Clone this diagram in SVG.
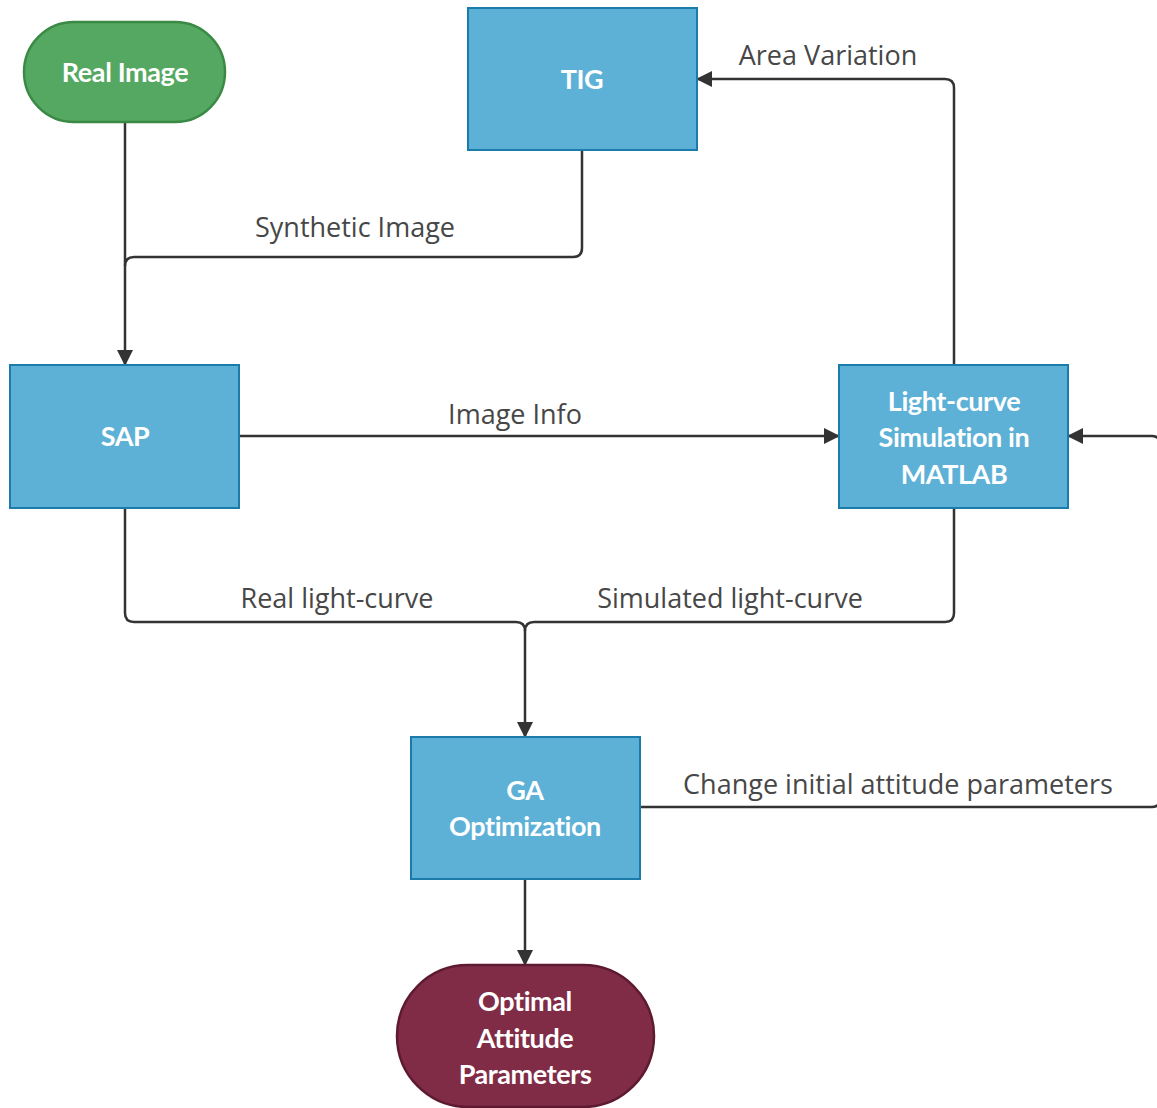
<svg xmlns="http://www.w3.org/2000/svg" width="1157" height="1108" viewBox="0 0 1157 1108">
<defs>
<marker id="ah" viewBox="0 0 16 16" refX="15" refY="8" markerWidth="16" markerHeight="16" markerUnits="userSpaceOnUse" orient="auto">
<path d="M0 0 L16 8 L0 16 Z" fill="#333"/>
</marker>
<style>
.box{fill:#5eb1d6;stroke:#1b7bab;stroke-width:2}
.nt{font-family:Lato,"Liberation Sans",sans-serif;font-weight:bold;font-size:27px;fill:#fff;text-anchor:middle;letter-spacing:-0.4px}
.lbl{font-family:"Open Sans","Noto Sans",sans-serif;font-size:27px;fill:#474747}
.cn{fill:none;stroke:#333;stroke-width:2.5}
</style>
</defs>
<rect width="1157" height="1108" fill="#fff"/>
<g id="connectors">
<path class="cn" d="M125 122 V365" marker-end="url(#ah)"/>
<path class="cn" d="M582 150 V248 Q582 257 573 257 H134 Q125 257 125 266"/>
<path class="cn" d="M239 436 H839" marker-end="url(#ah)"/>
<path class="cn" d="M954 365 V88 Q954 79 945 79 H697" marker-end="url(#ah)"/>
<path class="cn" d="M125 508 V613 Q125 622 134 622 H516 Q525 622 525 631 V737" marker-end="url(#ah)"/>
<path class="cn" d="M954 508 V613 Q954 622 945 622 H534 Q525 622 525 631"/>
<path class="cn" d="M525 879 V965" marker-end="url(#ah)"/>
<path class="cn" d="M640 807 H1152 Q1160 807 1160 799 V444 Q1160 436 1152 436 H1068" marker-end="url(#ah)"/>
<text class="lbl" x="828" y="65" text-anchor="middle">Area Variation</text>
<text class="lbl" x="355" y="237" text-anchor="middle">Synthetic Image</text>
<text class="lbl" x="515" y="424" text-anchor="middle">Image Info</text>
<text class="lbl" x="337" y="608" text-anchor="middle">Real light-curve</text>
<text class="lbl" x="730" y="608" text-anchor="middle">Simulated light-curve</text>
<text class="lbl" x="898" y="794" text-anchor="middle">Change initial attitude parameters</text>
</g>
<g id="real-image">
<rect x="24" y="22" width="201" height="100" rx="50" fill="#55a862" stroke="#3a8a45" stroke-width="2.5"/>
<text class="nt" x="125" y="82">Real Image</text>
</g>
<g id="tig">
<rect class="box" x="468" y="8" width="229" height="142"/>
<text class="nt" x="582" y="89">TIG</text>
</g>
<g id="sap">
<rect class="box" x="10" y="365" width="229" height="143"/>
<text class="nt" x="125" y="446">SAP</text>
</g>
<g id="lightcurve">
<rect class="box" x="839" y="365" width="229" height="143"/>
<text class="nt" x="954" y="411">Light-curve</text>
<text class="nt" x="954" y="447">Simulation in</text>
<text class="nt" x="954" y="484">MATLAB</text>
</g>
<g id="ga">
<rect class="box" x="411" y="737" width="229" height="142"/>
<text class="nt" x="525" y="800">GA</text>
<text class="nt" x="525" y="836">Optimization</text>
</g>
<g id="optimal">
<rect x="397" y="965" width="257" height="142" rx="71" fill="#812c46" stroke="#5e1a30" stroke-width="2.5"/>
<text class="nt" x="525" y="1011">Optimal</text>
<text class="nt" x="525" y="1048">Attitude</text>
<text class="nt" x="525" y="1084">Parameters</text>
</g>
</svg>
